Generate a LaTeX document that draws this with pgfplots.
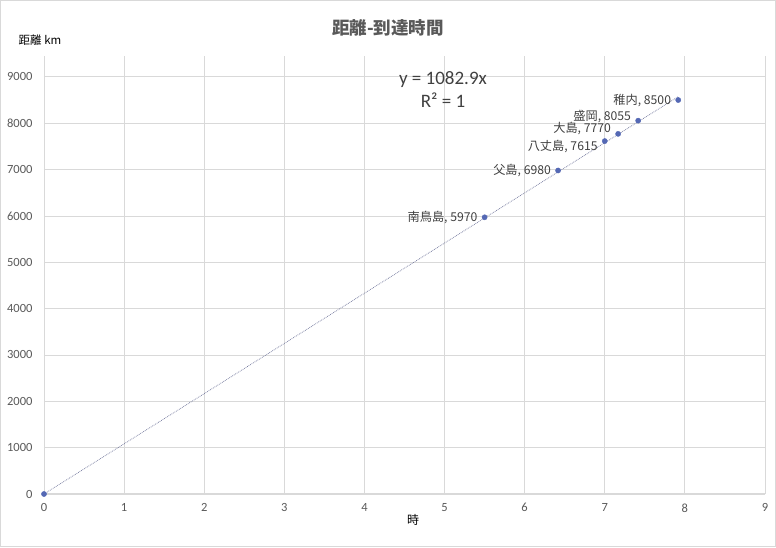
\documentclass[border=0pt]{standalone}
\usepackage{pgfplots}
\pgfplotsset{compat=1.18}
\usepackage{fontspec}
\setmainfont{Carlito}
\newfontfamily\cjk{Noto Sans CJK JP}
\definecolor{ptblue}{RGB}{84,104,180}
\definecolor{gridc}{RGB}{217,217,217}
\definecolor{tickc}{RGB}{89,89,89}
\definecolor{txtc}{RGB}{64,64,64}
\definecolor{trendc}{RGB}{120,125,160}
\pgfplotsset{
  lbl/.style={only marks, mark=*, mark size=2.6pt, color=ptblue,
    point meta=explicit symbolic,
    nodes near coords={\cjk\pgfplotspointmeta},
    nodes near coords style={anchor=east, xshift=-6pt, inner sep=1pt, font=\fontsize{12.2}{13}\selectfont, text=txtc, #1}},
  lbl/.default={}
}
\begin{document}
\begin{tikzpicture}
\begin{axis}[
  at={(0,0)}, anchor=south west,
  scale only axis, width=721pt, height=438pt,
  xmin=0, xmax=9, ymin=0, ymax=9450,
  xtick={0,1,...,9}, ytick={0,1000,...,9000},
  grid=major, major grid style={draw=gridc, line width=0.8pt},
  axis lines*=left,
  x axis line style={draw=gridc, line width=1.2pt, -},
  y axis line style={draw=none},
  major tick length=0pt,
  tick label style={font=\fontsize{12.5}{14}\selectfont, text=tickc},
  /pgf/number format/assume math mode=true,
  /pgf/number format/1000 sep={},
  xticklabel style={yshift=-6pt},
  yticklabel style={xshift=-8pt},
  clip=false,
]
\addplot[trendc, densely dotted, line width=0.75pt] coordinates {(0,0) (7.917,8573)};
\addplot[only marks, mark=*, mark size=2.6pt, color=ptblue] coordinates {(0,0)};
\addplot[lbl] table[meta=label, col sep=comma] {
x,y,label
5.5,5970,{南鳥島, 5970}
6.417,6980,{父島, 6980}
7.917,8500,{稚内, 8500}
};
\addplot[lbl={yshift=-5pt}] table[meta=label, col sep=comma] {
x,y,label
7.0,7615,{八丈島, 7615}
};
\addplot[lbl={yshift=5pt}] table[meta=label, col sep=comma] {
x,y,label
7.167,7770,{大島, 7770}
};
\addplot[lbl={yshift=4pt}] table[meta=label, col sep=comma] {
x,y,label
7.417,8055,{盛岡, 8055}
};
\node[align=center, text=txtc, font=\fontsize{19}{23}\selectfont] at (axis cs:4.98,8720) {y = 1082.9x\\R² = 1};
\end{axis}
\node[font=\cjk\bfseries\fontsize{17.5}{20}\selectfont, text=tickc] at (344pt,466pt) {距離-到達時間};
\node[font=\cjk\fontsize{11.5}{14}\selectfont, text=black] at (-4pt,454pt) {距離 km};
\node[font=\cjk\fontsize{12}{14}\selectfont, text=black] at (369pt,-26pt) {時};
\pgfresetboundingbox
\path[draw=gridc, line width=0.8pt] (-43.6pt,-52.6pt) rectangle ++(775.2pt,546.2pt);
\path (-44pt,-53pt) rectangle ++(776pt,547pt);
\end{tikzpicture}
\end{document}
